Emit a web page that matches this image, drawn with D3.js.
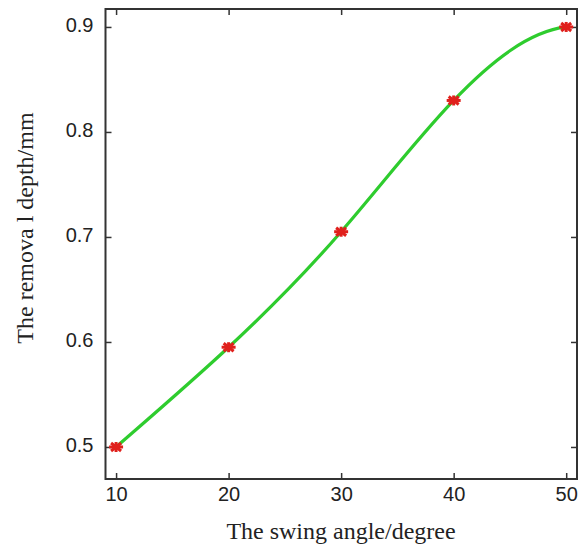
<!DOCTYPE html>
<html><head><meta charset="utf-8">
<script src="https://cdn.jsdelivr.net/npm/d3@7"></script>
<style>body{margin:0;background:#fff}</style>
</head><body>
<svg id="c" width="580" height="551"></svg>
<script>
const angles = [10, 20, 30, 40, 50];
const depths = [0.5, 0.595, 0.705, 0.83, 0.9];
const xTicks = [10, 20, 30, 40, 50];
const yTicks = [0.5, 0.6, 0.7, 0.8, 0.9];
const xTitle = "The swing angle/degree";
const yTitle = "The remova l depth/mm";

// Custom d3 curve: cubic spline with not-a-knot end conditions (like MATLAB spline)
function curveNotAKnot(context) {
  return {
    areaStart() {}, areaEnd() {},
    lineStart() { this._x = []; this._y = []; },
    point(x, y) { this._x.push(+x); this._y.push(+y); },
    lineEnd() {
      const X = this._x, Y = this._y, n = X.length;
      if (!n) return;
      context.moveTo(X[0], Y[0]);
      if (n < 4) { for (let i = 1; i < n; i++) context.lineTo(X[i], Y[i]); return; }
      const h = [], d = [];
      for (let i = 0; i < n - 1; i++) { h.push(X[i + 1] - X[i]); d.push((Y[i + 1] - Y[i]) / h[i]); }
      const A = Array.from({length: n}, () => new Array(n + 1).fill(0));
      A[0][0] = h[1]; A[0][1] = -(h[0] + h[1]); A[0][2] = h[0];
      for (let i = 1; i < n - 1; i++) {
        A[i][i - 1] = h[i - 1]; A[i][i] = 2 * (h[i - 1] + h[i]); A[i][i + 1] = h[i];
        A[i][n] = 6 * (d[i] - d[i - 1]);
      }
      A[n - 1][n - 3] = h[n - 2]; A[n - 1][n - 2] = -(h[n - 3] + h[n - 2]); A[n - 1][n - 1] = h[n - 3];
      // Gaussian elimination with partial pivoting
      for (let c = 0; c < n; c++) {
        let p = c;
        for (let r = c + 1; r < n; r++) if (Math.abs(A[r][c]) > Math.abs(A[p][c])) p = r;
        [A[c], A[p]] = [A[p], A[c]];
        for (let r = 0; r < n; r++) {
          if (r === c) continue;
          const f = A[r][c] / A[c][c];
          for (let k = c; k <= n; k++) A[r][k] -= f * A[c][k];
        }
      }
      const M = A.map((row, i) => row[n] / row[i]);
      const m = [];
      for (let i = 0; i < n - 1; i++) m.push(d[i] - h[i] * (2 * M[i] + M[i + 1]) / 6);
      m.push(d[n - 2] + h[n - 2] * (M[n - 2] + 2 * M[n - 1]) / 6);
      for (let i = 0; i < n - 1; i++) {
        const t = h[i] / 3;
        context.bezierCurveTo(X[i] + t, Y[i] + m[i] * t, X[i + 1] - t, Y[i + 1] - m[i + 1] * t, X[i + 1], Y[i + 1]);
      }
    }
  };
}

const svg = d3.select("#c");
const L = 105.5, R = 577, T = 9, B = 479;
const x = d3.scaleLinear().domain([9.06, 50.96]).range([L, R]);
const y = d3.scaleLinear().domain([0.4695, 0.9171]).range([B, T]);

const g = svg.append("g");
const tickFont = "'Liberation Sans', Arial, sans-serif";
g.append("g").attr("transform", `translate(0,${B})`)
  .call(d3.axisBottom(x).tickValues(xTicks).tickSizeInner(-6).tickSizeOuter(0).tickPadding(8).tickFormat(d3.format("d")));
g.append("g").attr("transform", `translate(0,${T})`)
  .call(d3.axisTop(x).tickValues(xTicks).tickSizeInner(-6).tickSizeOuter(0).tickFormat(""));
const yl = g.append("g").attr("transform", `translate(${L},0)`)
  .call(d3.axisLeft(y).tickValues(yTicks).tickSizeInner(-6).tickSizeOuter(0).tickPadding(12).tickFormat(d3.format(".1f")));
g.append("g").attr("transform", `translate(${R},0)`)
  .call(d3.axisRight(y).tickValues(yTicks).tickSizeInner(-6).tickSizeOuter(0).tickFormat(""));
g.selectAll(".domain").remove();
g.selectAll(".tick line").attr("stroke", "#333").attr("stroke-width", 1.5);
g.selectAll(".tick text").attr("font-family", tickFont).attr("font-size", 20).attr("fill", "#222");
yl.selectAll(".tick text").attr("dy", "0.22em");

g.append("rect").attr("x", L).attr("y", T).attr("width", R - L).attr("height", B - T)
  .attr("fill", "none").attr("stroke", "#333").attr("stroke-width", 2);

const line = d3.line().x((d, i) => x(angles[i])).y(d => y(d)).curve(curveNotAKnot);
g.append("path").datum(depths).attr("d", line).attr("fill", "none")
  .attr("stroke", "#2ecc2e").attr("stroke-width", 3.2);

const mk = g.selectAll(".mk").data(depths).enter().append("g")
  .attr("transform", (d, i) => `translate(${x(angles[i])},${y(d)})`);
const segs = [[-7,0,7,0],[0,-5,0,5],[-5,-4,5,4],[-5,4,5,-4]];
segs.forEach(s => mk.append("line").attr("x1", s[0]).attr("y1", s[1]).attr("x2", s[2]).attr("y2", s[3])
  .attr("stroke", "#e0201c").attr("stroke-width", 3));

svg.append("text").attr("x", 341).attr("y", 539).attr("text-anchor", "middle")
  .attr("font-family", "'Liberation Serif', serif").attr("font-size", 24).attr("fill", "#222").text(xTitle);
svg.append("text").attr("transform", `translate(33,228) rotate(-90)`).attr("text-anchor", "middle")
  .attr("font-family", "'Liberation Serif', serif").attr("font-size", 24).attr("fill", "#222").text(yTitle);
</script>
</body></html>
